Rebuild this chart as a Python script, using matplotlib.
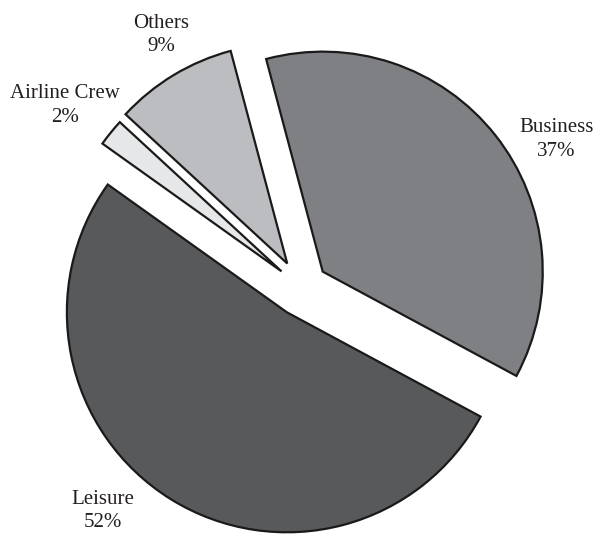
import matplotlib
matplotlib.use("Agg")
import matplotlib.pyplot as plt
import numpy as np

# Share of passengers by travel purpose (%)
categories = ["Business", "Others", "Airline Crew", "Leisure"]
shares = [37, 9, 2, 52]
colors = ["#7f8083", "#bcbdc0", "#e6e7e8", "#58595b"]
explode = [0.12, 0.13, 0.12, 0.13]

# label anchor points (data units, pie radius = 1)
label_pos = {
    "Business": (1.155, 0.675),
    "Others": (-0.64, 1.15),
    "Airline Crew": (-1.077, 0.83),
    "Leisure": (-0.905, -1.015),
}

plt.rcParams["font.family"] = ["Liberation Serif", "DejaVu Serif"]

fig = plt.figure(figsize=(5.94, 5.34), dpi=100)
ax = fig.add_axes([0, 0, 1, 1])

wedges, _ = ax.pie(
    shares,
    explode=explode,
    colors=colors,
    startangle=-28.3,
    counterclock=True,
    radius=1.0,
    wedgeprops=dict(edgecolor="#1a1a1a", linewidth=1.6, joinstyle="miter"),
)

for name, val in zip(categories, shares):
    x, y = label_pos[name]
    ax.text(x, y, f"{name}\n{val}%", ha="center", va="center",
            fontsize=15, color="#231f20", linespacing=1.3)

scale = 220.0
ax.set_xlim(-302 / scale, (594 - 302) / scale)
ax.set_ylim(-(534 - 288) / scale, 288 / scale)
ax.set_aspect("equal")
ax.axis("off")

fig.savefig("out.png", dpi=100, facecolor="white")
